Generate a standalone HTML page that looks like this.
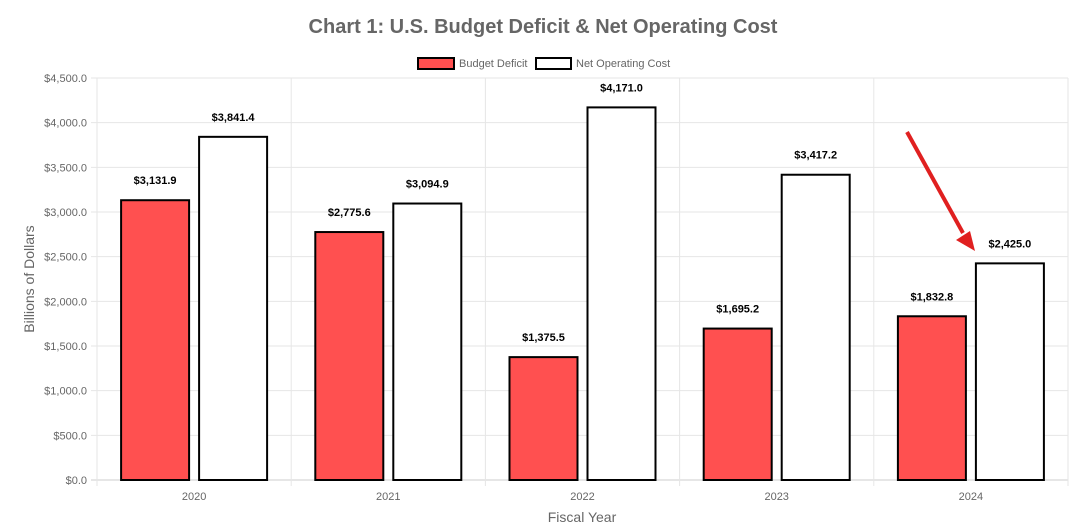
<!DOCTYPE html>
<html><head><meta charset="utf-8"><style>
body{margin:0;background:#fff;}
svg{display:block;font-family:"Liberation Sans",Arial,sans-serif;}
</style></head><body>
<svg id="c" width="1089" height="530">
<text x="543" y="33" text-anchor="middle" font-size="20" font-weight="bold" fill="#666">Chart 1: U.S. Budget Deficit &amp; Net Operating Cost</text>
<g>
<rect x="418" y="58" width="36" height="11" fill="#ff5050" stroke="#000" stroke-width="2"/>
<text x="459" y="67" font-size="11" fill="#666">Budget Deficit</text>
<rect x="536" y="58" width="35" height="11" fill="#fff" stroke="#000" stroke-width="2"/>
<text x="576" y="67" font-size="11" fill="#666">Net Operating Cost</text>
</g>
<text transform="translate(34,279) rotate(-90)" text-anchor="middle" font-size="14" fill="#666">Billions of Dollars</text>
<text x="582" y="522" text-anchor="middle" font-size="14" fill="#666">Fiscal Year</text>
<g id="grid"></g><g id="bars"></g>
<g>
<line x1="907" y1="132" x2="963" y2="233" stroke="#e02020" stroke-width="4"/>
<polygon points="975,251 956,240 970,231" fill="#e02020"/>
</g>
</svg>
<script>
const categories=["2020","2021","2022","2023","2024"];
const deficit=[3131.9,2775.6,1375.5,1695.2,1832.8];
const netCost=[3841.4,3094.9,4171.0,3417.2,2425.0];
const yTicks=[0,500,1000,1500,2000,2500,3000,3500,4000,4500];
const NS="http://www.w3.org/2000/svg";
const L=97,R=1068,T=78,B=480,yMax=4500;
const y=v=>B-(B-T)*v/yMax;
const bw=(R-L)/categories.length;
const xc=i=>L+bw*(i+0.5);
const fmt=v=>"$"+v.toLocaleString("en-US",{minimumFractionDigits:1,maximumFractionDigits:1});
function mk(t,a,p){const e=document.createElementNS(NS,t);for(const k in a)e.setAttribute(k,a[k]);p.appendChild(e);return e;}
const g=document.getElementById("grid"),bg=document.getElementById("bars");
yTicks.forEach(v=>{
 const l=mk("line",{x1:L-6,x2:R,y1:y(v),y2:y(v),stroke:v===0?"#ccc":"#e6e6e6"},g);
 
 
 const t=mk("text",{x:L-10,y:y(v)+4,"text-anchor":"end","font-size":11,fill:"#666"},g);
 t.textContent=fmt(v);
 
 
});
for(let i=0;i<=categories.length;i++){
 const l=mk("line",{x1:L+bw*i,x2:L+bw*i,y1:T,y2:B+6,stroke:"#e6e6e6"},g);
 
 
}
categories.forEach((c,i)=>{
 const t=mk("text",{x:xc(i),y:B+20,"text-anchor":"middle","font-size":11,fill:"#666"},g);
 t.textContent=c;
 
 
 [[deficit[i],"#ff5050",xc(i)-73,"bar-budget-deficit"],[netCost[i],"#fff",xc(i)+5,"bar-net-operating-cost"]].forEach(([v,f,x,n])=>{
  const r=mk("rect",{x:x,y:y(v),width:68,height:B-y(v),fill:f,stroke:"#000","stroke-width":2},bg);
  
  
  const lt=mk("text",{x:x+34,y:y(v)-16,"text-anchor":"middle","font-size":11,"font-weight":"bold",fill:"#000"},bg);
  lt.textContent=fmt(v);
  
  
 });
});
</script>
</body></html>
